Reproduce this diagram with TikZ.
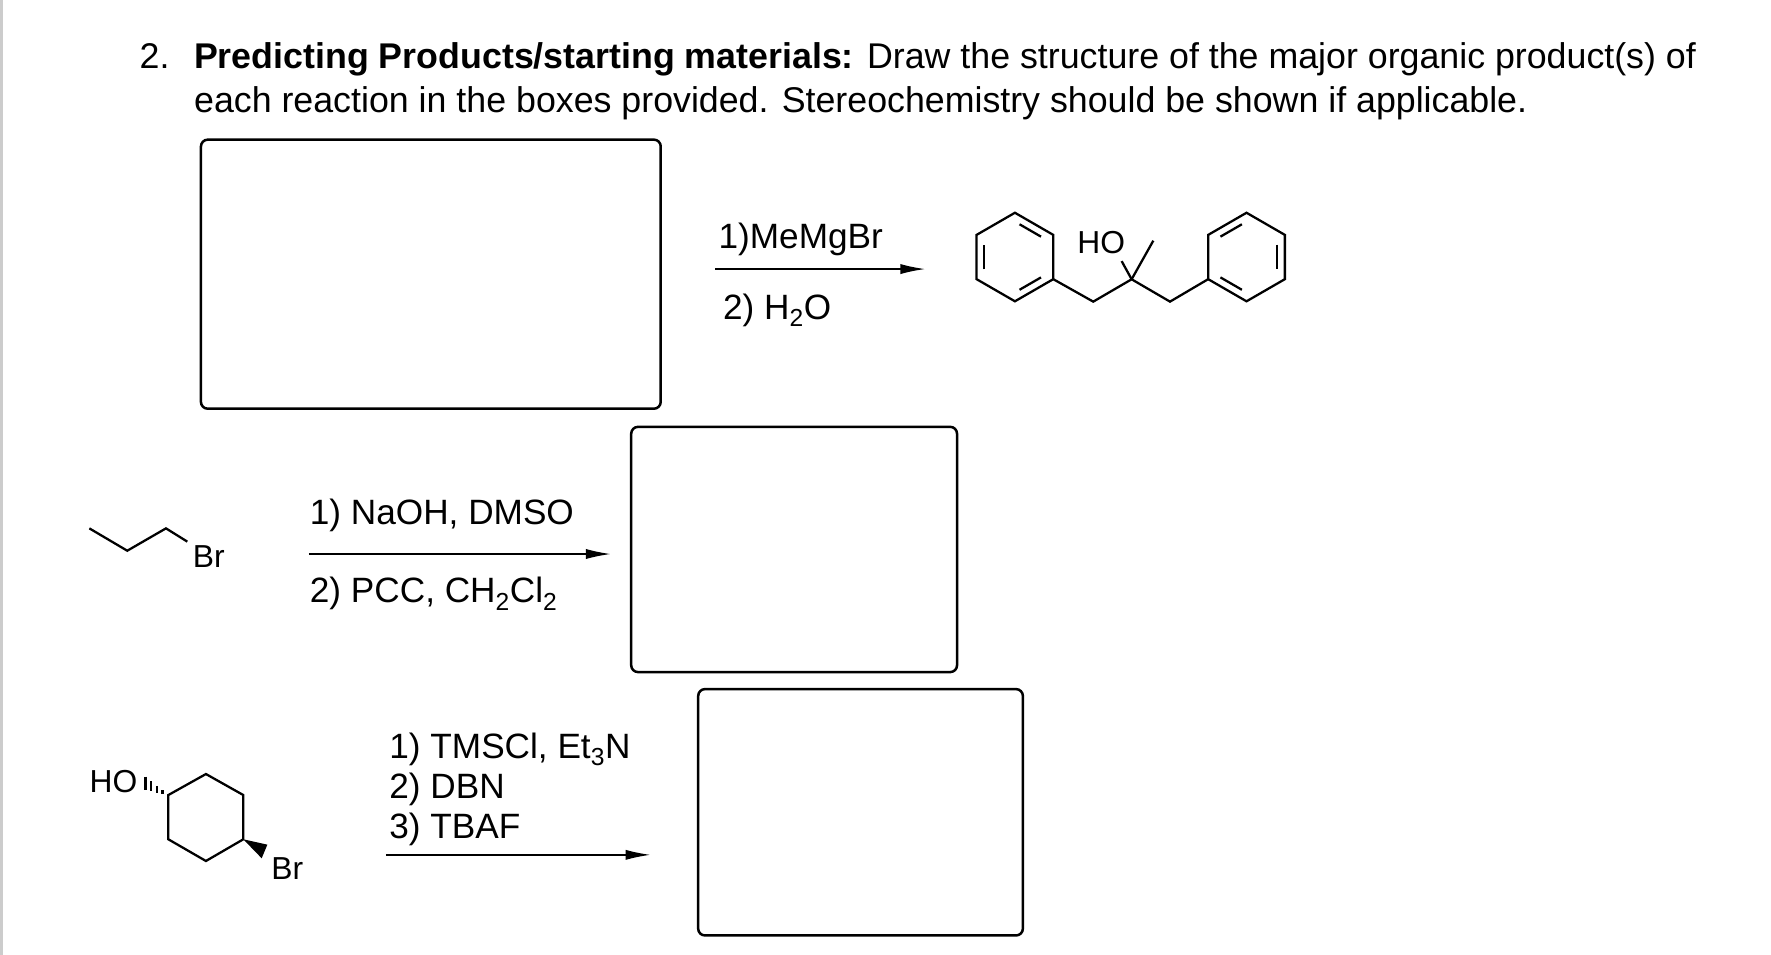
\documentclass[tikz,border=0pt]{standalone}
\usepackage{fontspec}
\setmainfont{Liberation Sans}
\usetikzlibrary{arrows.meta,calc}
\begin{document}
\begin{tikzpicture}[x=1pt,y=-1pt,line width=2pt,
 box/.style={draw,rounded corners=6pt,line width=2.2pt},
 txt/.style={font=\fontsize{31}{34}\selectfont,inner sep=0pt,anchor=base west},
 ttl/.style={font=\fontsize{31.5}{34}\selectfont,inner sep=0pt,anchor=base west},
 lab/.style={font=\fontsize{28}{30}\selectfont,inner sep=0pt},
 arr/.style={line width=1.3pt,-{Latex[length=22pt,width=9pt]}}]
\useasboundingbox (0,0) rectangle (1560,841);
\draw[gray!40,line width=3pt] (1,0) -- (1,841);
\node[ttl] (n2) at (122,60) {2.};
\node[ttl] (t1) at (170,60) {\textbf{Predicting Products/starting materials:} Draw the structure of the major organic product(s) of};
\node[ttl] (t2) at (170,99) {each reaction in the boxes provided. Stereochemistry should be shown if applicable.};
\node[box,minimum width=405pt,minimum height=237pt] (b1) at (379.5,241.5) {};
\node[box,minimum width=287pt,minimum height=216pt] (b2) at (699.5,484) {};
\node[box,minimum width=286pt,minimum height=217pt] (b3) at (758,715.5) {};
% reaction 1
\coordinate (a1s) at (630,237); \coordinate (a1e) at (815,237);
\draw[arr] (a1s) -- (a1e);
\node[txt] (r1a) at (632,219) {1)MeMgBr};
\node[txt] (r1b) at (636,281) {2) H\textsubscript{2}O};
% molecule
\coordinate (LC) at (894,226.4); \coordinate (RC) at (1098,226.4);
\foreach \n in {L,R}{
  \foreach \i in {0,...,5}{\coordinate (\n\i) at ($(\n C)+({90+60*\i}:39)$);}
  \draw (\n0)--(\n1)--(\n2)--(\n3)--(\n4)--(\n5)--cycle;
}
\coordinate (c1) at (963,265.7); \coordinate (cq) at (996.8,246);
\coordinate (me) at (1015.9,212); \coordinate (c2) at (1030.6,265.7);
\node[lab] (ho1) at (970,214) {HO};
\draw (L5)--(c1)--(cq)--(c2)--(R1);
\draw (cq)--(me);
\draw (cq)--(988,230);
\foreach \n/\a/\b in {L/0/5,L/1/2,L/3/4,R/0/1,R/2/3,R/4/5}{
  \draw ($(\n\a)!0.15!(\n\b)!0.2!(\n C)$) -- ($(\n\b)!0.15!(\n\a)!0.2!(\n C)$);
}
% reaction 2
\draw (78.7,465.4)--(112.1,485.1)--(146.2,465.4)--(165,477.1);
\node[lab] (br1) at (184,490) {Br};
\coordinate (a2s) at (272,488); \coordinate (a2e) at (538,488);
\draw[arr] (a2s) -- (a2e);
\node[txt] (r2a) at (272,462) {1) NaOH, DMSO};
\node[txt] (r2b) at (272,531) {2) PCC, CH\textsubscript{2}Cl\textsubscript{2}};
% reaction 3
\coordinate (h1) at (148.3,700.3); \coordinate (h2) at (181.4,681.8); \coordinate (h3) at (214.3,700.3);
\coordinate (h4) at (214.3,739.3); \coordinate (h5) at (181.4,758.4); \coordinate (h6) at (148.3,739.3);
\draw (h1)--(h2)--(h3)--(h4)--(h5)--(h6)--cycle;
\node[lab] (ho2) at (100,688) {HO};
\foreach \t in {0.25,0.5,0.75,1.0}{
  \draw[line width=2.2pt] ($(h1)!\t!(128,690)+(0,-\t*6)$) -- ($(h1)!\t!(128,690)+(0,\t*6)$);
}
\fill (h4) -- ($(233,750)+(-2.5,6)$) -- ($(233,750)+(2.5,-6)$) -- cycle;
\node[lab] (br2) at (253,765) {Br};
\coordinate (a3s) at (340,753); \coordinate (a3e) at (573,753);
\draw[arr] (a3s) -- (a3e);
\node[txt] (r3a) at (342,668) {1) TMSCl, Et\textsubscript{3}N};
\node[txt] (r3b) at (342,703) {2) DBN};
\node[txt] (r3c) at (342,739) {3) TBAF};
\end{tikzpicture}
\end{document}
